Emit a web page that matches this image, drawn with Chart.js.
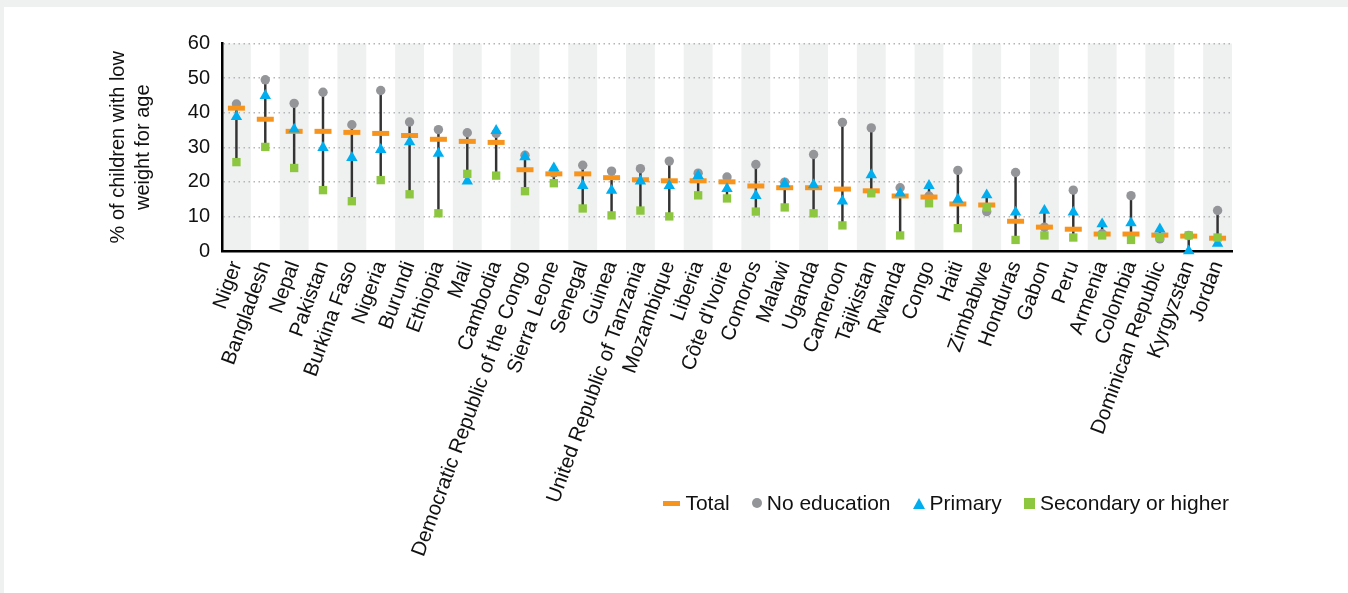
<!DOCTYPE html>
<html>
<head>
<meta charset="utf-8">
<title>Low weight for age by mother's education</title>
<script src="https://cdn.jsdelivr.net/npm/chart.js@4.4.0/dist/chart.umd.min.js"></script>
<style>
  html, body { margin: 0; padding: 0; background: #eff1f1; }
  body { width: 1348px; height: 593px; overflow: hidden; position: relative;
         font-family: "Liberation Sans", Arial, sans-serif; }
  #panel { position: absolute; left: 4px; top: 7px; width: 1344px; height: 586px; background: #fff; }
  #chart { position: absolute; left: 0; top: 0; }
  #legend { position: absolute; right: 119px; top: 484px; height: 24px; display: flex;
            align-items: center; font-size: 21px; color: #111; white-space: nowrap; }
  #legend .item { display: flex; align-items: center; margin-left: 22px; }
  #legend .item:first-child { margin-left: 0; }
  #legend .mk { display: inline-block; margin-right: 5px; }
</style>
</head>
<body>
<div id="panel">
  <canvas id="chart" width="1344" height="586"></canvas>
  <div id="legend"></div>
</div>
<script>
const countries = [
  'Niger', 'Bangladesh', 'Nepal', 'Pakistan', 'Burkina Faso', 'Nigeria', 'Burundi',
  'Ethiopia', 'Mali', 'Cambodia', 'Democratic Republic of the Congo', 'Sierra Leone',
  'Senegal', 'Guinea', 'United Republic of Tanzania', 'Mozambique', 'Liberia',
  "Côte d'Ivoire", 'Comoros', 'Malawi', 'Uganda', 'Cameroon', 'Tajikistan', 'Rwanda',
  'Congo', 'Haiti', 'Zimbabwe', 'Honduras', 'Gabon', 'Peru', 'Armenia', 'Colombia',
  'Dominican Republic', 'Kyrgyzstan', 'Jordan'
];

// % of children with low weight for age
const total = [41.3, 38.1, 34.6, 34.6, 34.3, 34.0, 33.4, 32.3, 31.7, 31.4, 23.5, 22.3,
  22.3, 21.2, 20.6, 20.3, 20.3, 20.0, 18.8, 18.3, 18.3, 17.9, 17.4, 15.9, 15.6, 13.6,
  13.3, 8.6, 6.9, 6.3, 4.9, 4.9, 4.6, 4.3, 3.7];
const noEducation = [42.5, 49.5, 42.7, 45.9, 36.5, 46.4, 37.3, 35.1, 34.2, 34.0, 27.7, 22.6,
  24.8, 23.1, 23.8, 26.0, 22.5, 21.4, 25.0, 19.9, 27.9, 37.2, 35.6, 18.3, 15.9, 23.3,
  11.4, 22.7, 6.9, 17.6, 5.0, 16.0, 3.5, 4.5, 11.7];
const primary = [38.8, 44.9, 35.2, 29.9, 27.0, 29.3, 31.5, 28.2, 20.2, 34.8, 27.2, 24.0,
  18.9, 17.5, 20.2, 18.9, 21.8, 18.0, 16.0, 19.4, 19.1, 14.4, 22.0, 16.7, 18.9, 14.9,
  16.2, 11.2, 11.7, 11.2, 7.8, 8.1, 6.3, 0.0, 2.2];
const secondary = [25.7, 30.1, 24.0, 17.6, 14.4, 20.5, 16.4, 10.9, 22.3, 21.8, 17.3, 19.6,
  12.3, 10.3, 11.7, 10.0, 16.1, 15.2, 11.4, 12.6, 10.9, 7.4, 16.7, 4.5, 13.8, 6.6,
  12.6, 3.2, 4.5, 3.9, 4.5, 3.2, 3.9, 4.5, 3.9];

const yTicks = [0, 10, 20, 30, 40, 50, 60];
const yTitle = ['% of children with low', 'weight for age'];

const FONT = '"Liberation Sans", Arial, sans-serif';
const COLORS = { total: '#f7941d', noEd: '#939598', primary: '#00aeef', secondary: '#8dc63f' };

// vertical range line: lowest to highest of the four values
const ranges = countries.map((c, i) => {
  const vals = [total[i], noEducation[i], primary[i], secondary[i]];
  return [Math.min(...vals), Math.max(...vals)];
});

// alternate grey column bands behind everything
const bandPlugin = {
  id: 'bands',
  beforeDraw(chart) {
    const { ctx, chartArea, scales: { x } } = chart;
    const w = x.getPixelForValue(1) - x.getPixelForValue(0);
    ctx.save();
    ctx.fillStyle = '#eff0f0';
    countries.forEach((c, i) => {
      if (i % 2 !== 0) return;
      const cx = x.getPixelForValue(i);
      ctx.fillRect(cx - w / 2, chartArea.top, w, chartArea.bottom - chartArea.top);
    });
    ctx.restore();
  }
};

function points(label, data, style, color, radius, order) {
  const ds = {
    type: 'line', label, data, order,
    showLine: false, clip: false,
    pointStyle: style, pointRadius: radius, pointHoverRadius: radius,
    pointBackgroundColor: color, pointBorderColor: color, pointBorderWidth: 0
  };
  if (style === 'line') ds.pointBorderWidth = 5;
  return ds;
}

new Chart(document.getElementById('chart'), {
  data: {
    labels: countries,
    datasets: [
      points('Secondary or higher', secondary, 'rect', COLORS.secondary, 5.9, 0),
      points('Primary', primary, 'triangle', COLORS.primary, 6.6, 1),
      points('Total', total, 'line', COLORS.total, 8.5, 2),
      points('No education', noEducation, 'circle', COLORS.noEd, 4.7, 3),
      {
        type: 'bar', label: 'range', data: ranges, order: 4,
        backgroundColor: '#333', borderWidth: 0, barThickness: 1.8, grouped: false
      }
    ]
  },
  plugins: [bandPlugin],
  options: {
    responsive: false,
    animation: false,
    devicePixelRatio: 1,
    layout: { padding: { left: 0, right: 116, top: 36.5, bottom: 0 } },
    plugins: { legend: { display: false }, tooltip: { enabled: false } },
    scales: {
      x: {
        offset: true,
        grid: { display: false, drawTicks: false },
        border: { display: true, color: '#000', width: 2.5 },
        ticks: {
          autoSkip: false, minRotation: 70, maxRotation: 70, padding: 7,
          color: '#111', font: { family: FONT, size: 20.5 }
        },
        afterFit(s) { s.height = 342; }
      },
      y: {
        min: 0, max: 60,
        afterBuildTicks(s) { s.ticks = yTicks.map(v => ({ value: v })); },
        ticks: { color: '#111', padding: 12, font: { family: FONT, size: 20 } },
        grid: {
          drawTicks: false, lineWidth: 1.5,
          color: c => (c.tick && c.tick.value === 0) ? 'rgba(0,0,0,0)' : '#b3b5b8'
        },
        border: { color: '#000', width: 2.5, dash: [1.5, 3.5] },
        title: {
          display: true, text: yTitle, color: '#111',
          font: { family: FONT, size: 20, lineHeight: 1.25 },
          padding: { top: 102, bottom: 0 }
        },
        afterFit(s) { s.width = 218; }
      }
    }
  }
});

// legend drawn as html under the plot, right aligned
const legendItems = [
  { name: 'Total', css: 'width:17px;height:5px;background:' + COLORS.total },
  { name: 'No education', css: 'width:10px;height:10px;border-radius:50%;background:' + COLORS.noEd },
  { name: 'Primary', css: 'width:0;height:0;border-left:6px solid transparent;border-right:6px solid transparent;border-bottom:11px solid ' + COLORS.primary },
  { name: 'Secondary or higher', css: 'width:11px;height:11px;background:' + COLORS.secondary }
];
document.getElementById('legend').innerHTML = legendItems.map(it =>
  `<span class="item"><span class="mk" style="${it.css}"></span>${it.name}</span>`).join('');
</script>
</body>
</html>
